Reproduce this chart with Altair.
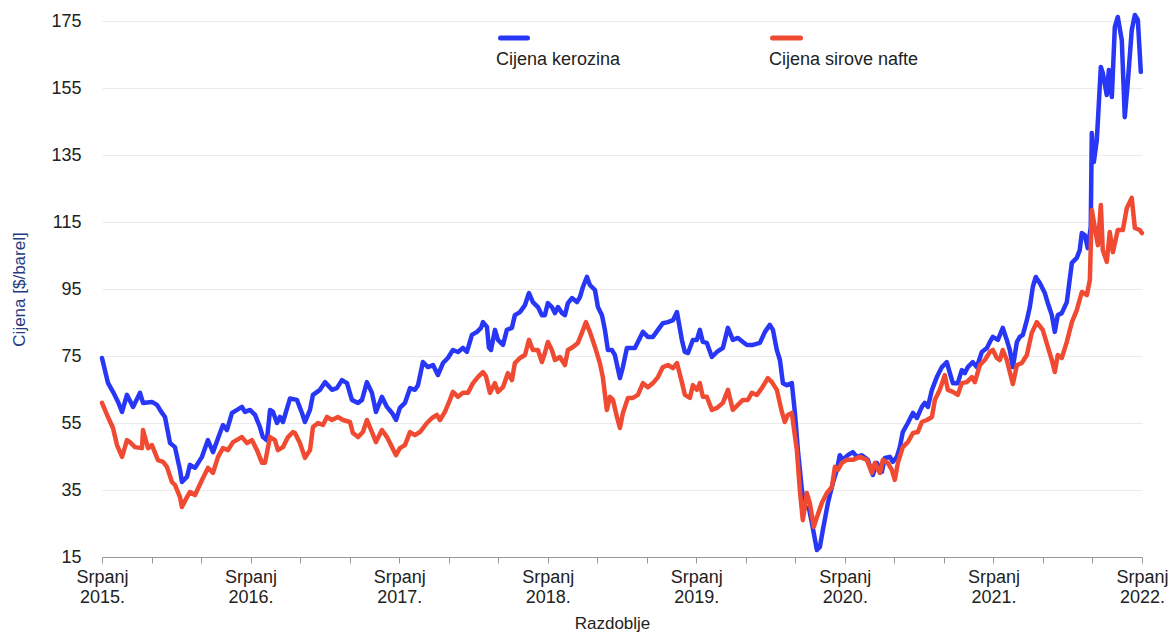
import altair as alt
import pandas as pd

# ---------------- data ----------------
SERIES = ["Cijena kerozina", "Cijena sirove nafte"]
MONTH_LABEL = "Srpanj"
X_TITLE = "Razdoblje"
Y_TITLE = "Cijena [$/barel]"
Y_TICKS = [15, 35, 55, 75, 95, 115, 135, 155, 175]

# time as decimal years
kerozin_t = [
    2015.500, 2015.540, 2015.574, 2015.608, 2015.635, 2015.668, 2015.709, 2015.756, 2015.776, 2015.836,
    2015.870, 2015.904, 2015.924, 2015.958, 2015.991, 2016.025, 2016.038, 2016.072, 2016.092, 2016.126,
    2016.173, 2016.213, 2016.247, 2016.294, 2016.314, 2016.341, 2016.375, 2016.409, 2016.442, 2016.462,
    2016.496, 2016.530, 2016.563, 2016.583, 2016.610, 2016.631, 2016.651, 2016.678, 2016.698, 2016.718,
    2016.765, 2016.812, 2016.846, 2016.866, 2016.900, 2016.920, 2016.967, 2017.001, 2017.048, 2017.081,
    2017.115, 2017.149, 2017.182, 2017.223, 2017.250, 2017.283, 2017.317, 2017.344, 2017.384, 2017.418,
    2017.452, 2017.479, 2017.505, 2017.539, 2017.573, 2017.606, 2017.627, 2017.660, 2017.694, 2017.728,
    2017.761, 2017.795, 2017.828, 2017.862, 2017.896, 2017.929, 2017.956, 2017.990, 2018.024, 2018.051,
    2018.064, 2018.091, 2018.104, 2018.118, 2018.145, 2018.165, 2018.199, 2018.225, 2018.259, 2018.279,
    2018.313, 2018.347, 2018.374, 2018.400, 2018.434, 2018.461, 2018.481, 2018.501, 2018.528, 2018.549,
    2018.569, 2018.596, 2018.616, 2018.636, 2018.663, 2018.697, 2018.717, 2018.737, 2018.764, 2018.784,
    2018.818, 2018.838, 2018.865, 2018.885, 2018.905, 2018.932, 2018.952, 2018.986, 2019.006, 2019.033,
    2019.067, 2019.087, 2019.107, 2019.141, 2019.174, 2019.208, 2019.242, 2019.275, 2019.309, 2019.343,
    2019.370, 2019.403, 2019.423, 2019.444, 2019.477, 2019.504, 2019.524, 2019.544, 2019.571, 2019.605,
    2019.639, 2019.679, 2019.713, 2019.746, 2019.780, 2019.814, 2019.841, 2019.881, 2019.928, 2019.962,
    2019.995, 2020.016, 2020.042, 2020.063, 2020.083, 2020.110, 2020.143, 2020.164, 2020.184, 2020.211,
    2020.231, 2020.258, 2020.278, 2020.312, 2020.332, 2020.352, 2020.386, 2020.419, 2020.446, 2020.466,
    2020.487, 2020.520, 2020.554, 2020.581, 2020.614, 2020.655, 2020.688, 2020.715, 2020.749, 2020.769,
    2020.803, 2020.823, 2020.850, 2020.870, 2020.890, 2020.924, 2020.958, 2020.985, 2021.018, 2021.038,
    2021.059, 2021.086, 2021.119, 2021.153, 2021.186, 2021.207, 2021.227, 2021.260, 2021.287, 2021.308,
    2021.328, 2021.361, 2021.388, 2021.422, 2021.456, 2021.476, 2021.496, 2021.530, 2021.563, 2021.590,
    2021.610, 2021.631, 2021.658, 2021.678, 2021.698, 2021.725, 2021.745, 2021.765, 2021.785, 2021.812,
    2021.846, 2021.866, 2021.893, 2021.913, 2021.933, 2021.960, 2021.994, 2022.028, 2022.061, 2022.081,
    2022.095, 2022.115, 2022.135, 2022.155, 2022.162, 2022.176, 2022.196, 2022.223, 2022.236, 2022.263,
    2022.277, 2022.297, 2022.317, 2022.337, 2022.364, 2022.384, 2022.404, 2022.431, 2022.452, 2022.472,
    2022.492,
]
kerozin_v = [
    74.4, 67.0, 64.3, 61.3, 58.3, 63.4, 59.8, 64.0, 61.0, 61.3,
    60.4, 58.0, 56.8, 49.0, 47.8, 41.0, 37.4, 38.9, 42.5, 41.6,
    44.9, 49.9, 46.3, 52.0, 54.4, 52.9, 58.0, 58.9, 59.8, 58.3,
    58.9, 57.4, 53.8, 50.8, 49.9, 58.9, 58.3, 55.0, 56.8, 55.3,
    62.3, 61.9, 58.0, 55.3, 58.9, 63.4, 64.9, 67.2, 64.9, 65.4,
    67.8, 66.9, 61.9, 61.0, 61.9, 67.2, 64.0, 58.3, 62.8, 59.8,
    58.0, 55.9, 59.5, 61.0, 65.4, 64.9, 66.3, 73.2, 71.7, 72.3,
    69.3, 72.9, 74.4, 76.8, 76.2, 77.4, 76.2, 81.3, 82.2, 83.4,
    85.1, 83.7, 77.5, 76.8, 82.8, 79.8, 78.3, 82.8, 83.4, 87.2,
    88.1, 90.2, 93.8, 91.1, 89.6, 87.2, 87.2, 90.8, 89.6, 87.8,
    89.6, 87.8, 87.2, 90.8, 92.3, 91.1, 92.6, 95.6, 98.6, 96.2,
    94.7, 89.6, 87.2, 82.8, 76.8, 76.8, 75.3, 68.4, 71.7, 77.4,
    77.4, 77.4, 79.2, 82.2, 80.7, 80.7, 82.8, 84.8, 85.1, 85.7,
    88.1, 79.8, 76.2, 75.9, 79.8, 79.8, 82.8, 79.2, 78.9, 74.7,
    76.2, 77.4, 83.4, 79.8, 80.4, 79.2, 78.3, 78.3, 78.9, 82.2,
    84.3, 82.8, 76.8, 73.8, 66.9, 66.3, 66.9, 58.0, 46.9, 35.0,
    29.9, 29.6, 25.1, 17.1, 18.0, 23.1, 31.1, 37.1, 41.0, 45.4,
    44.0, 45.4, 46.3, 44.9, 45.4, 44.0, 39.5, 43.1, 40.4, 44.6,
    44.9, 43.4, 44.9, 47.8, 52.3, 55.0, 58.0, 56.5, 59.8, 61.0,
    59.8, 64.9, 68.7, 71.7, 73.2, 69.9, 66.9, 66.9, 70.8, 69.9,
    71.7, 73.2, 71.7, 76.2, 77.4, 79.2, 80.7, 79.8, 83.4, 79.8,
    76.8, 71.7, 79.2, 80.7, 81.3, 85.7, 89.6, 95.6, 98.6, 96.8,
    93.8, 90.8, 87.2, 82.2, 87.2, 87.8, 91.1, 102.8, 104.3, 106.6,
    111.7, 111.1, 107.2, 113.5, 141.6, 132.9, 139.5, 161.3, 159.5, 152.9,
    160.4, 152.3, 173.2, 176.2, 169.3, 146.3, 156.5, 172.3, 176.8, 175.3,
    159.8,
]

nafta_t = [
    2015.500, 2015.534, 2015.574, 2015.601, 2015.635, 2015.668, 2015.688, 2015.722, 2015.769, 2015.776,
    2015.810, 2015.836, 2015.877, 2015.911, 2015.937, 2015.971, 2015.991, 2016.025, 2016.038, 2016.072,
    2016.092, 2016.126, 2016.173, 2016.213, 2016.247, 2016.281, 2016.314, 2016.348, 2016.382, 2016.442,
    2016.476, 2016.509, 2016.543, 2016.577, 2016.597, 2016.631, 2016.664, 2016.684, 2016.718, 2016.752,
    2016.785, 2016.799, 2016.832, 2016.866, 2016.900, 2016.920, 2016.954, 2016.987, 2017.014, 2017.048,
    2017.088, 2017.122, 2017.169, 2017.189, 2017.223, 2017.256, 2017.283, 2017.317, 2017.344, 2017.384,
    2017.418, 2017.452, 2017.479, 2017.505, 2017.539, 2017.573, 2017.606, 2017.640, 2017.687, 2017.721,
    2017.754, 2017.775, 2017.808, 2017.842, 2017.862, 2017.896, 2017.929, 2017.963, 2017.997, 2018.030,
    2018.064, 2018.084, 2018.111, 2018.145, 2018.165, 2018.199, 2018.232, 2018.259, 2018.279, 2018.313,
    2018.347, 2018.374, 2018.400, 2018.434, 2018.461, 2018.481, 2018.501, 2018.528, 2018.549, 2018.582,
    2018.616, 2018.636, 2018.670, 2018.703, 2018.730, 2018.757, 2018.784, 2018.818, 2018.851, 2018.871,
    2018.898, 2018.919, 2018.939, 2018.966, 2018.986, 2019.006, 2019.040, 2019.073, 2019.107, 2019.141,
    2019.174, 2019.208, 2019.242, 2019.275, 2019.309, 2019.343, 2019.370, 2019.403, 2019.423, 2019.457,
    2019.477, 2019.504, 2019.524, 2019.544, 2019.571, 2019.605, 2019.639, 2019.679, 2019.713, 2019.746,
    2019.780, 2019.814, 2019.847, 2019.874, 2019.908, 2019.941, 2019.982, 2020.009, 2020.042, 2020.076,
    2020.096, 2020.116, 2020.143, 2020.177, 2020.197, 2020.217, 2020.244, 2020.264, 2020.291, 2020.312,
    2020.345, 2020.379, 2020.413, 2020.433, 2020.453, 2020.480, 2020.513, 2020.554, 2020.601, 2020.648,
    2020.682, 2020.702, 2020.736, 2020.756, 2020.789, 2020.816, 2020.836, 2020.857, 2020.890, 2020.924,
    2020.958, 2020.991, 2021.018, 2021.052, 2021.086, 2021.106, 2021.139, 2021.173, 2021.193, 2021.227,
    2021.260, 2021.287, 2021.321, 2021.355, 2021.375, 2021.409, 2021.442, 2021.476, 2021.496, 2021.523,
    2021.543, 2021.563, 2021.590, 2021.610, 2021.631, 2021.658, 2021.691, 2021.725, 2021.758, 2021.792,
    2021.832, 2021.866, 2021.893, 2021.913, 2021.933, 2021.960, 2021.994, 2022.028, 2022.061, 2022.095,
    2022.129, 2022.149, 2022.162, 2022.182, 2022.203, 2022.223, 2022.236, 2022.263, 2022.283, 2022.304,
    2022.337, 2022.371, 2022.398, 2022.431, 2022.452, 2022.485, 2022.499,
]
nafta_v = [
    61.0, 57.4, 53.5, 48.4, 44.9, 49.9, 49.3, 47.8, 47.5, 52.9,
    47.5, 48.4, 43.9, 43.4, 41.9, 37.4, 36.5, 32.9, 29.9, 32.9,
    34.4, 33.5, 38.0, 41.6, 40.1, 44.9, 47.5, 46.9, 49.3, 50.8,
    49.0, 49.9, 46.9, 43.1, 43.1, 50.8, 49.9, 46.9, 47.8, 50.8,
    52.3, 52.0, 49.0, 44.6, 46.9, 53.8, 55.0, 54.4, 56.8, 55.9,
    56.8, 55.9, 55.3, 52.0, 50.8, 52.3, 55.9, 52.3, 49.3, 52.9,
    50.8, 47.8, 45.4, 47.5, 48.4, 52.3, 51.4, 52.3, 55.0, 56.5,
    57.4, 55.9, 58.3, 61.9, 64.3, 62.8, 64.0, 64.0, 66.9, 68.7,
    70.2, 69.0, 64.0, 66.9, 64.3, 65.7, 69.9, 67.8, 72.9, 74.4,
    75.3, 79.8, 76.8, 76.8, 73.2, 75.9, 79.2, 76.8, 73.8, 74.7,
    72.3, 76.8, 77.7, 78.9, 81.9, 85.1, 82.2, 77.7, 72.9, 68.7,
    58.9, 62.8, 61.9, 56.8, 53.5, 58.0, 62.5, 62.5, 63.4, 66.9,
    65.7, 66.9, 68.7, 71.7, 72.3, 71.4, 72.9, 67.2, 63.4, 62.5,
    66.3, 64.9, 66.9, 62.8, 62.8, 58.9, 59.5, 61.0, 64.9, 58.9,
    60.4, 61.9, 61.9, 64.0, 63.4, 65.4, 68.4, 67.2, 64.9, 58.3,
    55.3, 57.4, 58.0, 46.9, 35.0, 26.0, 34.1, 31.1, 24.0, 26.9,
    31.1, 34.1, 35.9, 41.9, 41.0, 43.1, 44.0, 44.0, 44.9, 44.0,
    40.1, 43.1, 40.1, 44.0, 43.1, 41.0, 38.0, 43.1, 47.8, 49.3,
    52.0, 52.3, 55.3, 55.9, 56.8, 61.9, 64.9, 69.3, 64.9, 64.3,
    63.4, 66.9, 67.2, 68.7, 67.2, 72.3, 73.8, 76.2, 76.8, 74.4,
    73.8, 76.8, 73.8, 70.2, 66.6, 72.3, 72.9, 75.3, 81.9, 85.1,
    82.8, 77.7, 73.8, 70.2, 75.3, 74.4, 79.2, 85.1, 88.7, 94.1,
    93.2, 97.7, 118.6, 113.5, 108.1, 120.1, 106.6, 103.1, 112.0, 106.0,
    112.6, 112.6, 119.2, 122.2, 113.2, 112.6, 111.7,
]

# ---------------- styling ----------------
BLUE = "#2737f5"
RED = "#f04a32"
FONT = "Liberation Sans"
TEXT = "#222222"

kerozin_df = pd.DataFrame({"t": kerozin_t, "v": kerozin_v, "serija": SERIES[0]})
nafta_df = pd.DataFrame({"t": nafta_t, "v": nafta_v, "serija": SERIES[1]})

x_ticks = [round(2015.5 + k / 3, 4) for k in range(22)]

label_expr = (
    "abs(datum.value - floor(datum.value) - 0.5) < 0.01 ? "
    f"['{MONTH_LABEL}', floor(datum.value) + '.'] : ''"
)

x_enc = alt.X(
    "t:Q",
    scale=alt.Scale(domain=[2015.5, 2022.5], nice=False, zero=False),
    axis=alt.Axis(
        values=x_ticks,
        labelExpr=label_expr,
        title=X_TITLE,
        grid=False,
        domainColor="#999999",
        tickColor="#999999",
        tickSize=6,
        labelPadding=5,
        labelLineHeight=20,
        labelOverlap=False,
        labelFlush=False,
        labelBound=False,
        titleX=510,
        titleY=71,
        titleBaseline="alphabetic",
    ),
)
y_enc = alt.Y(
    "v:Q",
    scale=alt.Scale(domain=[15, 175], nice=False, zero=False),
    axis=alt.Axis(
        values=Y_TICKS,
        title=Y_TITLE,
        grid=True,
        gridColor="#ebebeb",
        domain=False,
        ticks=False,
        tickSize=0,
        labelPadding=21,
        titlePadding=22,
        titleColor="#1f3a80",
    ),
)

kerozin_line = alt.Chart(kerozin_df).mark_line(
    color=BLUE, strokeWidth=4.5, strokeJoin="round", strokeCap="round", clip=False
).encode(x=x_enc, y=y_enc)

nafta_line = alt.Chart(nafta_df).mark_line(
    color=RED, strokeWidth=4.5, strokeJoin="round", strokeCap="round", clip=False
).encode(x=x_enc, y=y_enc)

dummy = pd.DataFrame({"a": [0]})


def legend_symbol(x1, x2, color):
    return alt.Chart(dummy).mark_rule(color=color, strokeWidth=5, strokeCap="round").encode(
        x=alt.value(x1), x2=alt.value(x2), y=alt.value(17)
    )


def legend_label(x, txt):
    return alt.Chart(dummy).mark_text(
        align="left", baseline="alphabetic", fontSize=18, font=FONT, color=TEXT
    ).encode(x=alt.value(x), y=alt.value(44), text=alt.value(txt))


chart = alt.layer(
    kerozin_line,
    nafta_line,
    legend_symbol(398.5, 425.5, BLUE),
    legend_label(394, SERIES[0]),
    legend_symbol(670.5, 698.5, RED),
    legend_label(667, SERIES[1]),
).properties(
    width=1040,
    height=536,
    autosize=alt.AutoSizeParams(type="none"),
    padding={"left": 94, "top": 13, "right": 26, "bottom": 77},
).configure_view(
    strokeWidth=0
).configure_axis(
    labelFont=FONT,
    titleFont=FONT,
    labelFontSize=18,
    titleFontSize=17,
    labelColor=TEXT,
    titleColor=TEXT,
    titleFontWeight="normal",
)

chart.save("out.html", embed_options={"renderer": "svg", "actions": False})
